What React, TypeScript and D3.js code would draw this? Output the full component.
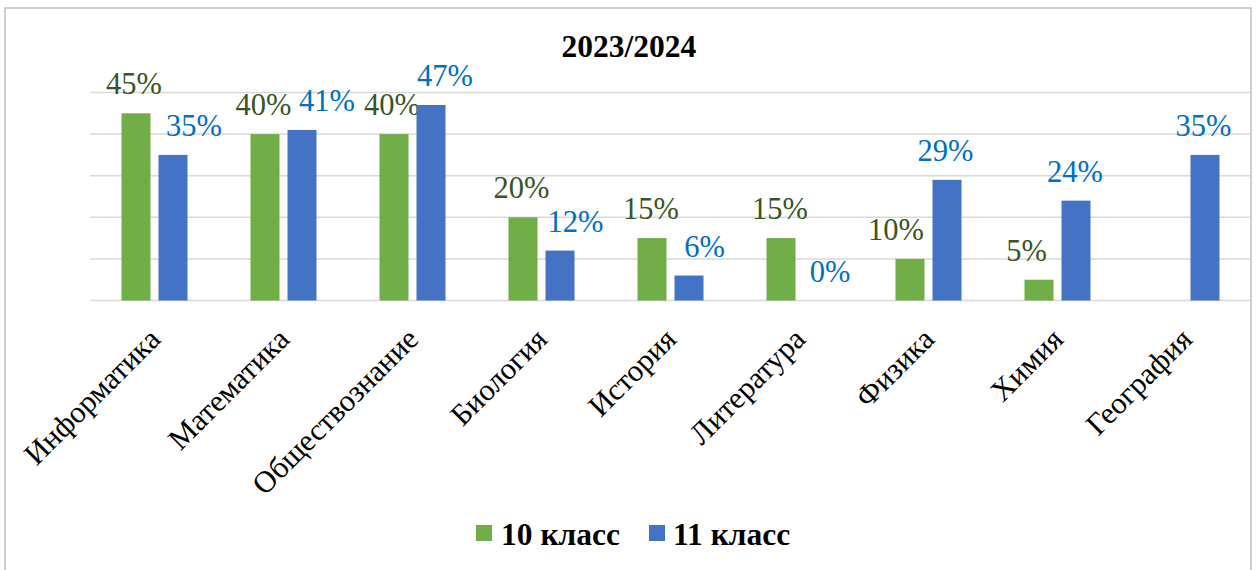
import React from "react";
import * as d3 from "d3";

const categories = ["Информатика", "Математика", "Обществознание", "Биология", "История", "Литература", "Физика", "Химия", "География"];
const grade10: (number | null)[] = [45, 40, 40, 20, 15, 15, 10, 5, null];
const grade11: (number | null)[] = [35, 41, 47, 12, 6, 0, 29, 24, 35];
const seriesNames = ["10 класс", "11 класс"];
const yTicks = [0, 10, 20, 30, 40, 50];
const title = "2023/2024";

// horizontal nudges of the data labels (px), as placed in the original chart
const labelNudge10 = [-2, -1.5, -2, -1.5, -1, -1, -14, -12.5, 0];
const labelNudge11 = [21, 25, 14, 15.5, 15.5, 12, -1.5, -1, -1.5];

const W = 1259;
const H = 570;
const barColors = ["#70AD47", "#4472C4"];
const labelColors = ["#375623", "#0070C0"];
const FONT = "'Liberation Serif', 'Times New Roman', serif";

export default function App() {
  const x = d3.scaleBand<string>().domain(categories).range([90, 1251]).padding(0);
  const y = d3.scaleLinear().domain([0, 50]).range([300.5, 92.5]);
  const series = [grade10, grade11];
  const nudges = [labelNudge10, labelNudge11];
  const inner = d3.scaleBand<string>().domain(seriesNames).range([0, 66]).paddingInner(8 / 37).paddingOuter(0);

  return (
    <svg width={W} height={H} style={{ position: "absolute", left: 0, top: 0, background: "#fff" }}>
      <rect x={5} y={8} width={1246} height={600} fill="#fff" stroke="#BFBFBF" strokeWidth={1.5} />
      <text x={629} y={57} textAnchor="middle" fontFamily={FONT} fontWeight="bold" fontSize={31.5} fill="#000">{title}</text>
      {yTicks.map((t) => (
        <line key={t} x1={90} x2={1250} y1={y(t)} y2={y(t)} stroke="#D9D9D9" strokeWidth={1.5} />
      ))}
      {categories.map((c, ci) => {
        const cx = (x(c) as number) + x.bandwidth() / 2;
        const g0 = cx - 33;
        return (
          <g key={c}>
            {series.map((s, si) => {
              const v = s[ci];
              if (v === null) return null;
              const bx = g0 + (inner(seriesNames[si]) as number);
              const bw = inner.bandwidth();
              return (
                <g key={si}>
                  {v > 0 && <rect x={bx} y={y(v)} width={bw} height={y(0) - y(v)} fill={barColors[si]} />}
                  <text x={bx + bw / 2 + nudges[si][ci]} y={y(v) - 19} textAnchor="middle" fontFamily={FONT} fontSize={30.5} fill={labelColors[si]}>{v}%</text>
                </g>
              );
            })}
            <text
              transform={`translate(${cx + 7.5},${341}) rotate(-45)`}
              textAnchor="end"
              fontFamily={FONT}
              fontSize={30.5}
              fill="#000"
            >{c}</text>
          </g>
        );
      })}
      <g>
        <rect x={476} y={525} width={16} height={16} fill={barColors[0]} />
        <text x={501} y={545} fontFamily={FONT} fontWeight="bold" fontSize={31.5} fill="#000">{seriesNames[0]}</text>
        <rect x={649} y={525} width={16} height={16} fill={barColors[1]} />
        <text x={673} y={545} fontFamily={FONT} fontWeight="bold" fontSize={31.5} fill="#000">{seriesNames[1]}</text>
      </g>
    </svg>
  );
}
